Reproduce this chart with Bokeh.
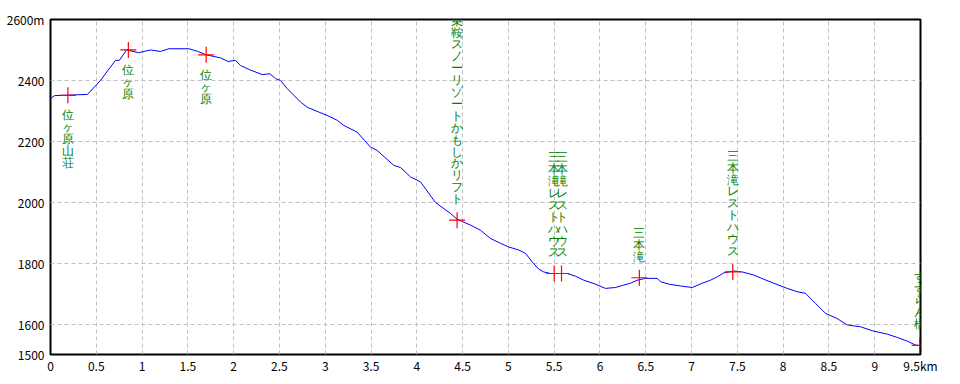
from bokeh.plotting import figure
from bokeh.models import ColumnDataSource, LabelSet, FixedTicker, Range1d
from bokeh.embed import file_html
from bokeh.resources import INLINE

# Profile data (distance km, elevation m)
dist = [0.000, 0.044, 0.404, 0.546, 0.710, 0.753, 0.830, 0.964, 1.092, 1.201,
        1.292, 1.510, 1.602, 1.700, 1.856, 1.940, 2.020, 2.075, 2.176, 2.312,
        2.395, 2.457, 2.512, 2.585, 2.730, 2.803, 2.930, 3.021, 3.131, 3.203,
        3.349, 3.494, 3.567, 3.749, 3.822, 3.931, 4.040, 4.204, 4.368, 4.441,
        4.586, 4.695, 4.805, 4.914, 5.004, 5.114, 5.187, 5.260, 5.332, 5.387,
        5.460, 5.642, 5.733, 5.823, 5.951, 6.060, 6.169, 6.260, 6.333, 6.406,
        6.497, 6.625, 6.661, 6.752, 6.879, 7.007, 7.116, 7.207, 7.280, 7.352,
        7.461, 7.553, 7.680, 7.789, 7.898, 8.045, 8.154, 8.244, 8.353, 8.463,
        8.590, 8.700, 8.845, 8.986, 9.137, 9.246, 9.355, 9.446, 9.500]
elev = [2340, 2350, 2354, 2400, 2466, 2466, 2500, 2491, 2500, 2495,
        2504, 2504, 2496, 2484, 2474, 2462, 2466, 2449, 2435, 2419,
        2422, 2406, 2400, 2373, 2329, 2312, 2296, 2285, 2269, 2252,
        2230, 2181, 2170, 2121, 2114, 2083, 2067, 1999, 1963, 1944,
        1925, 1908, 1881, 1865, 1853, 1843, 1832, 1804, 1780, 1771,
        1766, 1766, 1757, 1744, 1731, 1717, 1720, 1728, 1734, 1744,
        1750, 1750, 1739, 1731, 1725, 1720, 1734, 1744, 1755, 1768,
        1774, 1771, 1761, 1747, 1734, 1717, 1706, 1701, 1668, 1635,
        1618, 1597, 1591, 1577, 1567, 1556, 1544, 1531, 1529]

# Waypoints
wp_dist = [0.19, 0.85, 1.70, 4.44, 5.50, 5.58, 6.43, 7.45, 9.49]
wp_elev = [2351, 2500, 2484, 1941, 1766, 1766, 1752, 1771, 1530]
wp_name = ["位ヶ原山荘", "位ヶ原", "位ヶ原", "・乗鞍スノーリゾートかもしかリフト",
           "三本滝レストハウス", "三本滝レストハウス", "三本滝", "三本滝レストハウス", "すずらん橋"]
wp_below = [True, True, True, False, False, False, False, False, False]

x_ticks = [0, 0.5, 1, 1.5, 2, 2.5, 3, 3.5, 4, 4.5, 5, 5.5, 6, 6.5, 7, 7.5, 8, 8.5, 9, 9.5]
y_ticks = [1500, 1600, 1800, 2000, 2200, 2400, 2600]

FONT = "Noto Sans CJK JP"

p = figure(width=944, height=376, output_backend="svg", toolbar_location=None,
           x_range=Range1d(0, 9.5), y_range=Range1d(1500, 2600))
p.min_border_left = 50
p.min_border_right = 24
p.min_border_top = 19
p.min_border_bottom = 22
p.background_fill_color = "white"
p.border_fill_color = "white"
p.outline_line_color = "black"
p.outline_line_width = 2

for ax in (p.xaxis[0], p.yaxis[0]):
    ax.axis_line_color = None
    ax.major_tick_line_color = None
    ax.minor_tick_line_color = None
    ax.major_tick_out = 0
    ax.major_tick_in = 0
    ax.minor_tick_out = 0
    ax.major_label_text_font = FONT
    ax.major_label_text_font_size = "12px"
    ax.major_label_text_color = "black"

p.xaxis[0].ticker = FixedTicker(ticks=x_ticks)
p.xaxis[0].major_label_overrides = {9.5: "9.5km"}
p.xaxis[0].major_label_standoff = 2
p.yaxis[0].ticker = FixedTicker(ticks=y_ticks)
p.yaxis[0].major_label_overrides = {2600: "2600m"}
p.yaxis[0].major_label_standoff = 6

for g in (p.xgrid[0], p.ygrid[0]):
    g.grid_line_color = "#c0c0c0"
    g.grid_line_dash = "4 3"
    g.grid_line_width = 1

p.line(dist, elev, line_color="#0000ff", line_width=1)

p.scatter(wp_dist, wp_elev, marker="cross", size=16, line_color="#ff0000", line_width=1.2)

below_src = ColumnDataSource(dict(
    x=[d for d, b in zip(wp_dist, wp_below) if b],
    y=[e for e, b in zip(wp_elev, wp_below) if b],
    t=["\n".join(n) for n, b in zip(wp_name, wp_below) if b]))
above_src = ColumnDataSource(dict(
    x=[d for d, b in zip(wp_dist, wp_below) if not b],
    y=[e for e, b in zip(wp_elev, wp_below) if not b],
    t=["\n".join(n) for n, b in zip(wp_name, wp_below) if not b]))

common = dict(x="x", y="y", text="t", text_font=FONT, text_font_size="12px",
              text_color="#008000", text_align="center", text_line_height=0.85)
p.add_layout(LabelSet(source=below_src, text_baseline="top", y_offset=-13, **common))
p.add_layout(LabelSet(source=above_src, text_baseline="bottom", y_offset=14, **common))

open("out.html", "w").write(file_html(p, INLINE))
